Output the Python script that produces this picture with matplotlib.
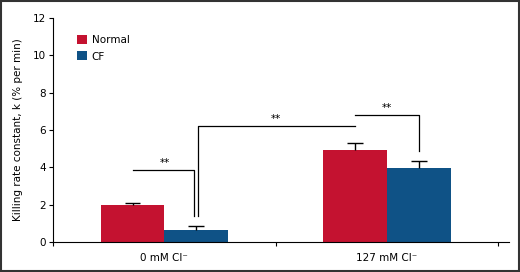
import matplotlib
matplotlib.use("Agg")
import matplotlib.pyplot as plt
from matplotlib.patches import Rectangle
import numpy as np

groups = ["0 mM Cl\u207b", "127 mM Cl\u207b"]
series = ["Normal", "CF"]
normal = [1.98, 4.95]
normal_err = [0.12, 0.33]
cf = [0.63, 3.98]
cf_err = [0.25, 0.35]
colors = ["#C41230", "#0F5286"]

fig = plt.figure(figsize=(5.2, 2.72), dpi=100)
ax = fig.add_axes([0.102, 0.110, 0.877, 0.824])

x = np.arange(len(groups))
w = 0.286
cw = 0.035  # half width of the error caps
for pos, vals, errs, c, lab in [(x - w / 2, normal, normal_err, colors[0], series[0]),
                                (x + w / 2, cf, cf_err, colors[1], series[1])]:
    ax.bar(pos, vals, w, color=c, label=lab)
    tops = np.array(vals) + np.array(errs)
    ax.vlines(pos, vals, tops, color="black", lw=1)
    ax.hlines(tops, pos - cw, pos + cw, color="black", lw=1)

ax.set_xlim(-0.5, 1.548)
ax.set_ylim(0, 12)
ax.set_yticks(range(0, 13, 2))
ax.set_xticks([-0.5, 0.5, 1.5])
ax.set_xticklabels([])
ax.set_xticks(x, minor=True)
ax.set_xticklabels(groups, minor=True)
ax.tick_params(axis="x", which="minor", length=0, pad=8, labelsize=7.5)
ax.tick_params(axis="x", which="major", length=3, direction="out")
ax.tick_params(axis="y", length=3, labelsize=7.5, pad=2)
for s in ["top", "right"]:
    ax.spines[s].set_visible(False)
ax.set_ylabel("Killing rate constant, k (% per min)", fontsize=7.5, labelpad=7)

# significance brackets
lk = dict(color="black", lw=0.9)
ax.plot([0 - w / 2, 0 + w / 2 - 0.01, 0 + w / 2 - 0.01], [3.85, 3.85, 1.4], **lk)
ax.text(0, 3.95, "**", ha="center", va="bottom", fontsize=7.5)
ax.plot([0 + w / 2 + 0.01, 0 + w / 2 + 0.01, 1 - w / 2], [1.4, 6.2, 6.2], **lk)
ax.text(0.5, 6.3, "**", ha="center", va="bottom", fontsize=7.5)
ax.plot([1 - w / 2, 1 + w / 2, 1 + w / 2], [6.8, 6.8, 4.85], **lk)
ax.text(1, 6.9, "**", ha="center", va="bottom", fontsize=7.5)

ax.legend(loc="upper left", bbox_to_anchor=(0.032, 0.965), frameon=False,
          fontsize=7.5, handlelength=0.95, handleheight=0.95,
          handletextpad=0.45, labelspacing=0.6)

fig.patches.append(Rectangle((0.002, 0.003), 0.996, 0.994, transform=fig.transFigure,
                             fill=False, edgecolor="#333333", lw=1.5))
fig.savefig("out.png", dpi=100)
